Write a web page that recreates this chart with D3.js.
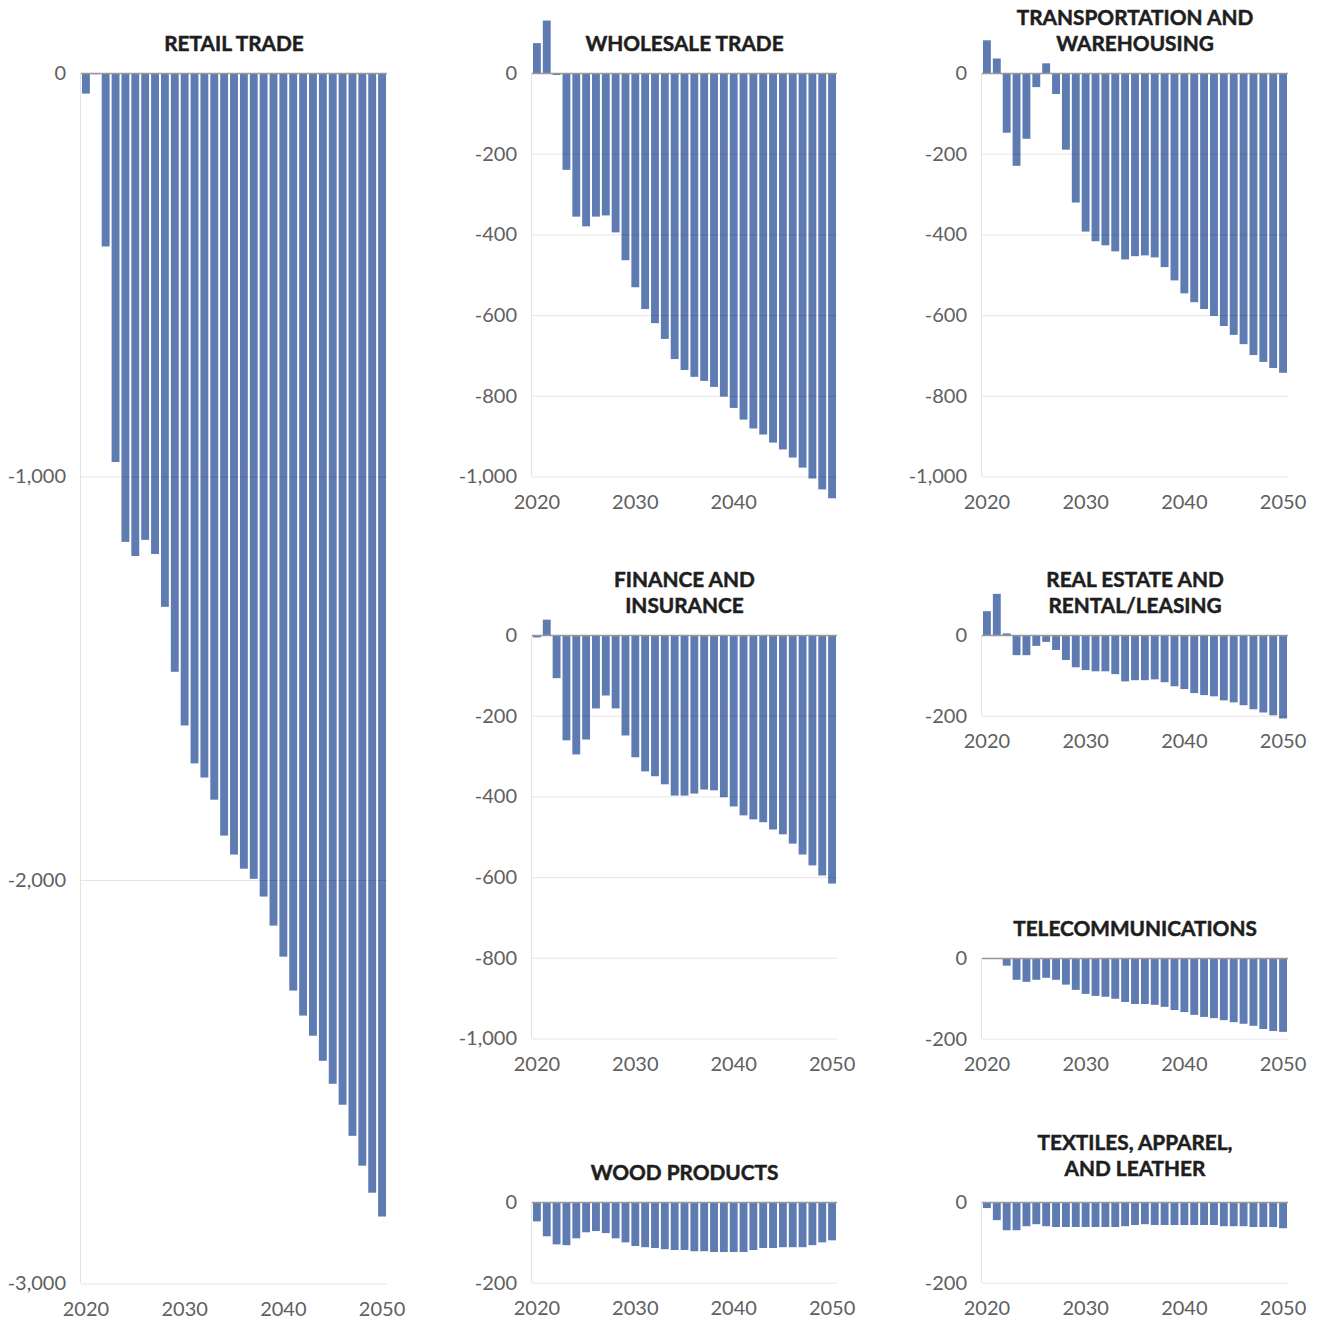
<!DOCTYPE html>
<html>
<head>
<meta charset="utf-8">
<script src="https://cdn.jsdelivr.net/npm/d3@7"></script>
<style>
  body { margin: 0; background: #fff; }
  svg { display: block; }
  .title { font-family: Lato, sans-serif; font-weight: 700; font-size: 20.8px; fill: #1e1e1e; stroke: #1e1e1e; stroke-width: 0.5px; }
  .tick text { font-family: Lato, sans-serif; font-size: 20px; fill: #606060; }
</style>
</head>
<body>
<svg id="chart" width="1318" height="1321"></svg>
<script>
const years = d3.range(2020, 2051)

const retail = [-51, -3, -430, -964, -1162, -1197, -1157, -1192, -1323, -1484,
  -1617, -1711, -1746, -1801, -1890, -1937, -1972, -1997, -2041, -2113,
  -2190, -2274, -2336, -2386, -2448, -2505, -2557, -2634, -2708, -2775, -2834]

const wholesale = [74, 130, -5, -240, -356, -380, -356, -353, -395, -464,
  -531, -585, -620, -659, -709, -736, -753, -763, -778, -802,
  -830, -859, -881, -896, -916, -933, -953, -978, -1005, -1032, -1054]

const transportation = [81, 36, -148, -230, -163, -35, 24, -52, -190, -321,
  -393, -417, -427, -442, -462, -454, -452, -457, -481, -514,
  -546, -568, -585, -602, -627, -649, -672, -699, -716, -731, -743]

const finance = [-6, 38, -107, -261, -296, -259, -182, -150, -182, -249,
  -303, -338, -350, -370, -398, -398, -393, -383, -385, -402,
  -425, -447, -457, -464, -482, -494, -517, -544, -571, -596, -616]

const realEstate = [59, 102, 4, -50, -50, -27, -17, -37, -62, -80,
  -87, -90, -90, -97, -115, -112, -112, -110, -117, -127,
  -134, -144, -149, -152, -162, -167, -174, -184, -192, -199, -207]

const telecom = [-1, -1, -19, -54, -59, -54, -49, -54, -66, -79,
  -89, -94, -96, -101, -109, -114, -114, -116, -121, -129,
  -134, -141, -146, -149, -154, -159, -163, -168, -176, -181, -183]

const wood = [-48, -85, -105, -107, -90, -75, -72, -77, -90, -100,
  -109, -112, -114, -117, -119, -119, -122, -122, -124, -124,
  -124, -124, -119, -114, -114, -112, -112, -112, -107, -100, -95]

const textiles = [-15, -45, -70, -70, -60, -55, -60, -62, -62, -62,
  -62, -62, -62, -62, -60, -57, -55, -57, -57, -57,
  -57, -57, -57, -57, -60, -60, -60, -62, -62, -62, -65]

const yearTicks = [2020, 2030, 2040, 2050]
const ticksBig = [0, -1000, -2000, -3000]
const ticksMid = [0, -200, -400, -600, -800, -1000]
const ticksSmall = [0, -200]

// px per unit, shared by every panel
const k = 0.4035
const cols = [[81, 387], [532, 837], [982, 1288]]

const panels = [
  { title: ['RETAIL TRADE'], values: retail, col: 0, zero: 73, min: -3000, yTicks: ticksBig, xTicks: yearTicks },
  { title: ['WHOLESALE TRADE'], values: wholesale, col: 1, zero: 73, min: -1000, yTicks: ticksMid, xTicks: [2020, 2030, 2040] },
  { title: ['TRANSPORTATION AND', 'WAREHOUSING'], values: transportation, col: 2, zero: 73, min: -1000, yTicks: ticksMid, xTicks: yearTicks },
  { title: ['FINANCE AND', 'INSURANCE'], values: finance, col: 1, zero: 635, min: -1000, yTicks: ticksMid, xTicks: yearTicks },
  { title: ['REAL ESTATE AND', 'RENTAL/LEASING'], values: realEstate, col: 2, zero: 635, min: -200, yTicks: ticksSmall, xTicks: yearTicks },
  { title: ['TELECOMMUNICATIONS'], values: telecom, col: 2, zero: 958, min: -200, yTicks: ticksSmall, xTicks: yearTicks },
  { title: ['WOOD PRODUCTS'], values: wood, col: 1, zero: 1202, min: -200, yTicks: ticksSmall, xTicks: yearTicks },
  { title: ['TEXTILES, APPAREL,', 'AND LEATHER'], values: textiles, col: 2, zero: 1202, min: -200, yTicks: ticksSmall, xTicks: yearTicks, titleGap: 4 }
]

const fmt = d3.formatLocale({ decimal: '.', thousands: ',', grouping: [3], currency: ['', ''], minus: '-' }).format(',')

const svg = d3.select('#chart')

panels.forEach(p => {
  const [x0, x1] = cols[p.col]
  const w = x1 - x0
  const h = -p.min * k
  const g = svg.append('g').attr('transform', `translate(${x0}, ${p.zero})`)

  const x = d3.scaleBand().domain(years).range([0, w]).paddingInner(0.2).paddingOuter(0.1)
  const y = d3.scaleLinear().domain([p.min, 0]).range([h, 0])

  // left rule
  g.append('line')
    .attr('x1', -0.5).attr('x2', -0.5)
    .attr('y1', 0).attr('y2', h)
    .style('stroke', '#e3e3e3')

  // bars
  g.selectAll('.bar').data(p.values).enter().append('rect')
    .classed('bar', true)
    .attr('x', (v, i) => x(years[i]))
    .attr('width', x.bandwidth())
    .attr('y', v => y(Math.max(v, 0)))
    .attr('height', v => Math.abs(y(v) - y(0)))
    .style('fill', '#5e7bb2')

  // y axis with gridlines drawn over the bars
  const yAxis = g.append('g')
    .call(d3.axisLeft(y).tickValues(p.yTicks).tickSize(-w).tickPadding(15).tickFormat(fmt))
  yAxis.select('.domain').remove()
  yAxis.selectAll('.tick line').style('stroke', '#000').style('stroke-opacity', 0.1)
  yAxis.selectAll('.tick').filter(d => d === 0).select('line')
    .style('stroke', '#999').style('stroke-opacity', 1).style('stroke-width', 1.5)

  // x axis
  const xAxis = g.append('g')
    .attr('transform', `translate(0, ${h})`)
    .call(d3.axisBottom(x).tickValues(p.xTicks).tickSize(0).tickPadding(18))
  xAxis.select('.domain').remove()

  // title
  const gap = 31 + (p.titleGap || 0)
  const lineH = 25.5
  const n = p.title.length
  g.append('text').classed('title', true)
    .attr('text-anchor', 'middle')
    .attr('x', w / 2)
    .selectAll('tspan').data(p.title).enter().append('tspan')
    .attr('x', w / 2)
    .attr('y', (t, i) => -gap - (n - 1 - i) * lineH + 8.5)
    .text(t => t)
})
</script>
</body>
</html>
